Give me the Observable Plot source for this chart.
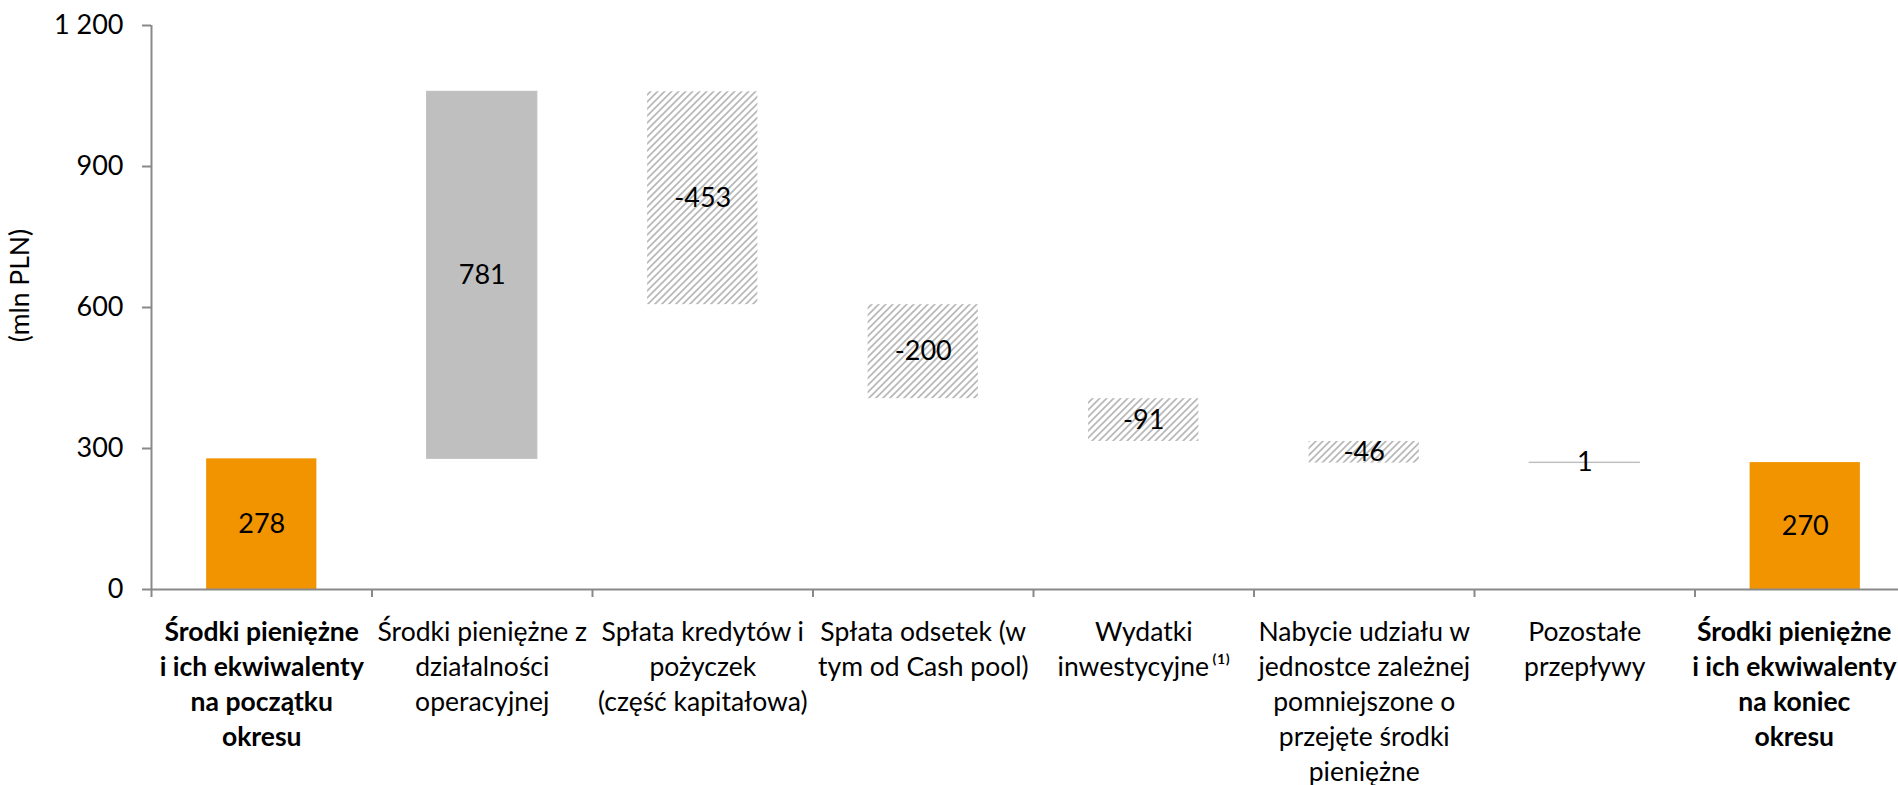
<!DOCTYPE html>
<html>
<head>
<meta charset="utf-8">
<script src="https://cdn.jsdelivr.net/npm/d3@7"></script>
<script src="https://cdn.jsdelivr.net/npm/@observablehq/plot@0.6"></script>
<style>
  html, body { margin: 0; padding: 0; background: #fff; overflow: hidden; }
  #chart svg { display: block; }
</style>
</head>
<body>
<div id="chart"></div>
<script>
const categories = [
  "Środki pieniężne\ni ich ekwiwalenty\nna początku\nokresu",
  "Środki pieniężne z\ndziałalności\noperacyjnej",
  "Spłata kredytów i\npożyczek\n(część kapitałowa)",
  "Spłata odsetek (w\ntym od Cash pool)",
  "Wydatki\ninwestycyjne\u2009⁽¹⁾",
  "Nabycie udziału w\njednostce zależnej\npomniejszone o\nprzejęte środki\npieniężne",
  "Pozostałe\nprzepływy",
  "Środki pieniężne\ni ich ekwiwalenty\nna koniec\nokresu"
];
const values = [278, 781, -453, -200, -91, -46, 1, 270];
const kinds = ["total", "increase", "decrease", "decrease", "decrease", "decrease", "increase", "total"];
const boldLabels = [true, false, false, false, false, false, false, true];
const yTicks = [0, 300, 600, 900, 1200];
const yLabel = "(mln PLN)";

// waterfall table
let running = 0;
const rows = categories.map((c, i) => {
  let start, end;
  if (kinds[i] === "total") { start = 0; end = values[i]; running = values[i]; }
  else { start = running; end = running + values[i]; running = end; }
  return { i, category: c, value: values[i], kind: kinds[i], start, end, mid: (start + end) / 2, bold: boldLabels[i] };
});
const lastIndex = categories.length - 1;

const colors = { total: "#F29400", increase: "#BFBFBF", decrease: "url(#hatch)" };
const axisColor = "#898989";
const font = "Lato, 'Open Sans', sans-serif";
const numSize = 27;
const catSize = 26.5;

const catText = (data, extra) => Plot.text(data, {
  x: d => d.i + 0.5, frameAnchor: "bottom", lineAnchor: "top", dy: 27,
  text: "category", lineHeight: 35 / catSize, fill: "#000", fontSize: catSize, ...extra
});

const chart = Plot.plot({
  width: 1898,
  height: 785,
  marginTop: 25,
  marginBottom: 196,
  marginLeft: 151,
  marginRight: 0,
  style: { fontFamily: font, fontSize: numSize + "px", color: "#000", background: "#fff", overflow: "hidden" },
  x: { type: "linear", domain: [0, categories.length], range: [151, 1915], axis: null },
  y: { domain: [0, 1200], axis: null },
  marks: [
    Plot.rectY(rows, {
      x1: d => d.i + 0.25, x2: d => d.i + 0.75,
      y1: "start", y2: "end",
      fill: d => colors[d.kind],
      stroke: d => d.kind === "increase" ? "#BFBFBF" : "none",
      strokeWidth: 1
    }),
    Plot.ruleX([0], { y1: 0, y2: 1200, stroke: axisColor, strokeWidth: 2 }),
    Plot.ruleY([0], { stroke: axisColor, strokeWidth: 2 }),
    Plot.axisY({
      ticks: yTicks, tickSize: 9, tickPadding: 19,
      stroke: axisColor, strokeWidth: 2, fill: "#000", fontSize: numSize,
      tickFormat: d => d3.format(",")(d).replace(/,/g, " "),
      label: null
    }),
    Plot.axisX({
      ticks: d3.range(categories.length + 1), tickSize: 8,
      stroke: axisColor, strokeWidth: 2,
      tickFormat: () => "", label: null
    }),
    Plot.text(rows, {
      x: d => d.i + 0.5, y: "mid",
      text: d => String(d.value), fill: "#000", fontSize: numSize
    }),
    catText(rows.filter(d => !d.bold), {}),
    catText(rows.filter(d => d.bold && d.i !== lastIndex), { fontWeight: "bold" }),
    catText(rows.filter(d => d.i === lastIndex), { fontWeight: "bold", dx: -11 }),
    Plot.text([yLabel], {
      frameAnchor: "left", textAnchor: "middle", dx: -131, dy: -22, rotate: -90,
      text: d => d, fill: "#000", fontSize: catSize
    })
  ]
});

// hatch pattern for decreases
const svg = d3.select(chart);
const defs = svg.insert("defs", ":first-child");
const pat = defs.append("pattern")
  .attr("id", "hatch")
  .attr("patternUnits", "userSpaceOnUse")
  .attr("width", 7).attr("height", 7);
pat.append("rect").attr("width", 7).attr("height", 7).attr("fill", "#fff");
pat.append("path")
  .attr("d", "M-1,1 L1,-1 M0,7 L7,0 M6,8 L8,6")
  .attr("stroke", "#B8B8B8").attr("stroke-width", 1.7);

document.getElementById("chart").appendChild(chart);
</script>
</body>
</html>
